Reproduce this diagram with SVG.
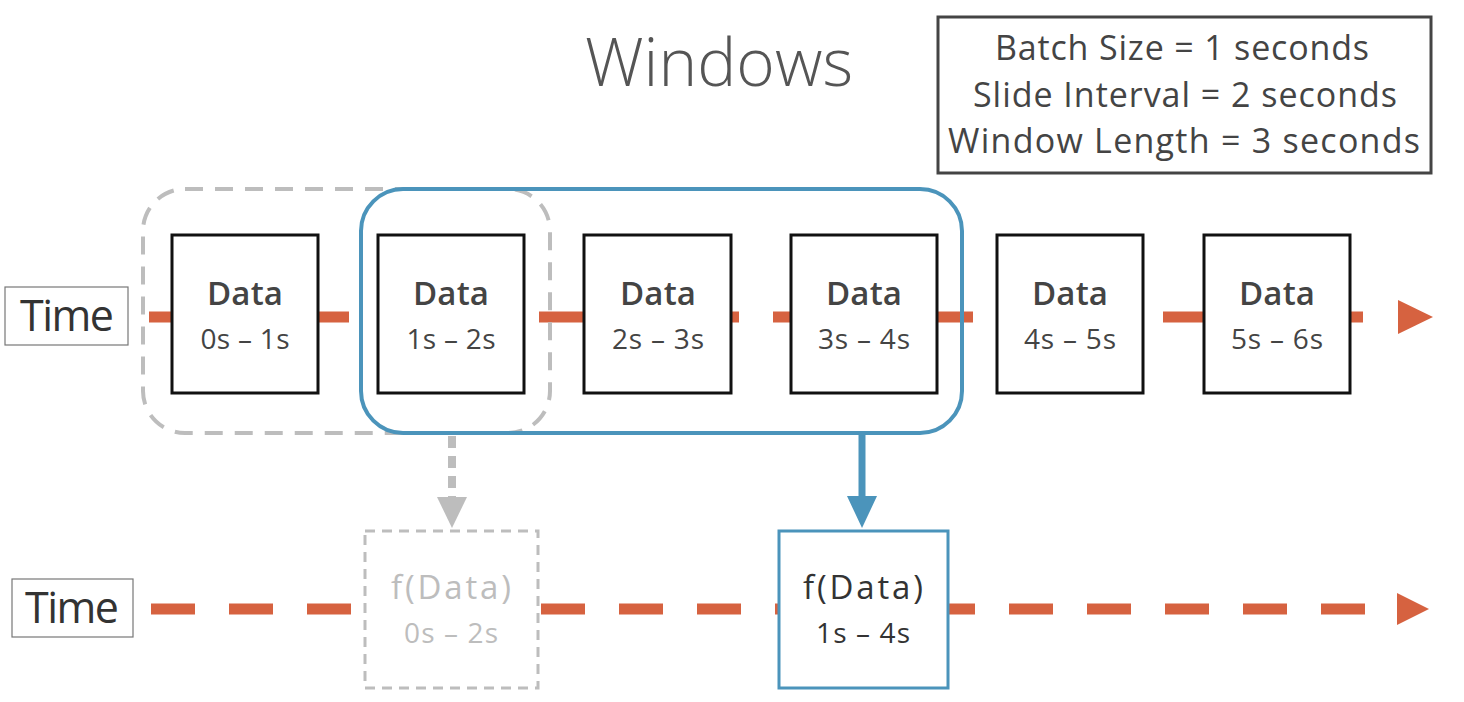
<svg xmlns="http://www.w3.org/2000/svg" width="1464" height="702" viewBox="0 0 1464 702">
<style>
.sans{font-family:"Open Sans","Noto Sans","Liberation Sans",sans-serif}
.data{fill:#fff;stroke:#111;stroke-width:3}
.lbl{font-size:33px;font-weight:600;fill:#444;text-anchor:middle}
.rng{font-size:28px;font-weight:400;fill:#444;text-anchor:middle}
.fl{font-size:33px;font-weight:400;text-anchor:middle}
.time{fill:#fff;stroke:#777;stroke-width:1.2}
.timet{font-size:43px;font-weight:400;fill:#333;text-anchor:middle}
.flow{stroke:#d66240;stroke-width:11;stroke-dasharray:44 34;fill:none}
.param{font-size:34px;font-weight:400;fill:#444;text-anchor:middle}
</style>
<rect width="1464" height="702" fill="#fff"/>
<g id="title"><text class="sans" x="719" y="86" font-size="66" font-weight="300" fill="#555" text-anchor="middle" textLength="268" lengthAdjust="spacingAndGlyphs">Windows</text></g>
<g id="params">
<rect x="938" y="17" width="493" height="156" fill="#fff" stroke="#444" stroke-width="3"/>
<text class="sans param" x="1182" y="60" textLength="374">Batch Size = 1 seconds</text>
<text class="sans param" x="1185" y="107" textLength="424">Slide Interval = 2 seconds</text>
<text class="sans param" x="1184" y="153" textLength="472">Window Length = 3 seconds</text>
</g>
<g id="connectors">
<line class="flow" x1="149" y1="317" x2="1363" y2="317"/>
<polygon points="1398,300 1433,317 1398,334" fill="#d66240"/>
<line class="flow" x1="151" y1="609" x2="1365" y2="609"/>
<polygon points="1397,593 1429,609 1397,625" fill="#d66240"/>
</g>
<g id="time-top"><rect class="time" x="5" y="287" width="123" height="58"/><text class="sans timet" x="67" y="331" textLength="94">Time</text></g>
<g id="time-bottom"><rect class="time" x="12" y="579" width="121" height="58"/><text class="sans timet" x="72" y="623" textLength="94">Time</text></g>
<g id="d0"><rect class="data" x="172" y="235" width="146" height="158"/><text class="sans lbl" x="245" y="305" textLength="76">Data</text><text class="sans rng" x="245" y="349" textLength="89">0s – 1s</text></g>
<g id="d1"><rect class="data" x="378" y="235" width="146" height="158"/><text class="sans lbl" x="451" y="305" textLength="76">Data</text><text class="sans rng" x="451" y="349" textLength="89">1s – 2s</text></g>
<g id="d2"><rect class="data" x="584" y="235" width="147" height="158"/><text class="sans lbl" x="658" y="305" textLength="76">Data</text><text class="sans rng" x="658" y="349" textLength="92">2s – 3s</text></g>
<g id="d3"><rect class="data" x="791" y="235" width="146" height="158"/><text class="sans lbl" x="864" y="305" textLength="76">Data</text><text class="sans rng" x="864" y="349" textLength="92">3s – 4s</text></g>
<g id="d4"><rect class="data" x="997" y="235" width="146" height="158"/><text class="sans lbl" x="1070" y="305" textLength="76">Data</text><text class="sans rng" x="1070" y="349" textLength="92">4s – 5s</text></g>
<g id="d5"><rect class="data" x="1204" y="235" width="146" height="158"/><text class="sans lbl" x="1277" y="305" textLength="76">Data</text><text class="sans rng" x="1277" y="349" textLength="92">5s – 6s</text></g>
<g id="window-old"><rect x="143" y="189" width="407" height="244" rx="42" fill="none" stroke="#bdbdbd" stroke-width="4" stroke-dasharray="18 12"/></g>
<g id="window-new"><rect x="361" y="189" width="601" height="244" rx="42" fill="none" stroke="#4b94bb" stroke-width="4"/></g>
<g id="arrows">
<line x1="452" y1="436" x2="452" y2="498" stroke="#bdbdbd" stroke-width="8" stroke-dasharray="12 8"/>
<polygon points="437,497 467,497 452,528" fill="#bdbdbd"/>
<line x1="862" y1="433" x2="862" y2="500" stroke="#4b94bb" stroke-width="7"/>
<polygon points="847,496 877,496 862,528" fill="#4b94bb"/>
</g>
<g id="f-old"><rect x="365" y="531" width="173" height="157" fill="#fff" stroke="#bdbdbd" stroke-width="3" stroke-dasharray="10 7"/><text class="sans fl" x="451" y="599" style="fill:#bdbdbd" textLength="120">f(Data)</text><text class="sans rng" x="451" y="643" style="fill:#bdbdbd" textLength="94">0s – 2s</text></g>
<g id="f-new"><rect x="779" y="531" width="169" height="157" fill="#fff" stroke="#4b94bb" stroke-width="3"/><text class="sans fl" x="863" y="599" style="fill:#333" textLength="120">f(Data)</text><text class="sans rng" x="863" y="643" style="fill:#333" textLength="94">1s – 4s</text></g>
</svg>
